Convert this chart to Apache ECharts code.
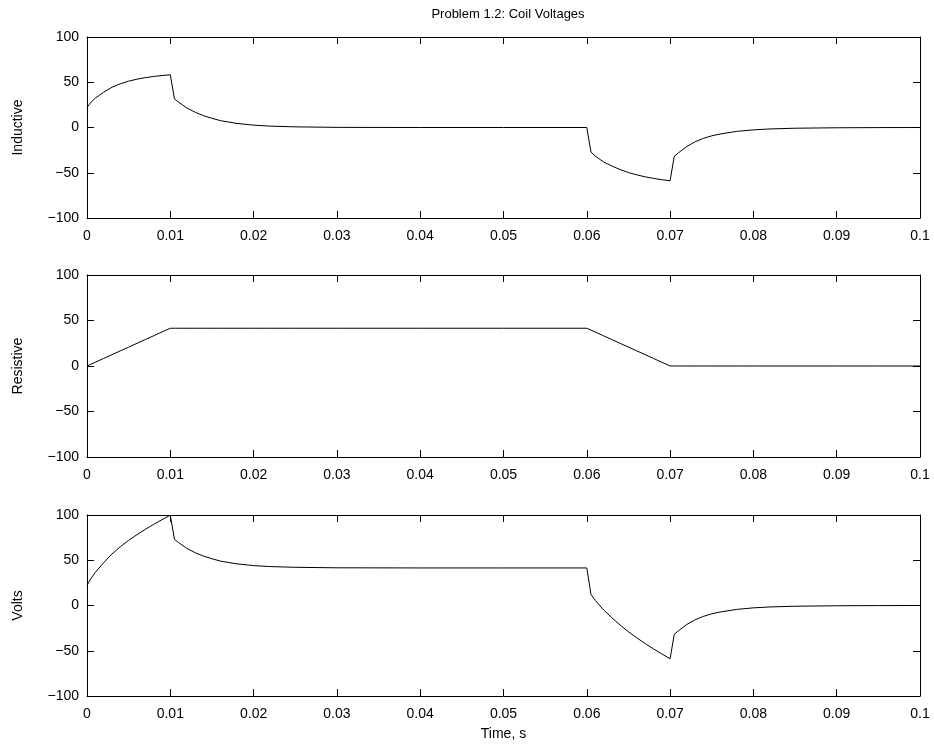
<!DOCTYPE html>
<html>
<head>
<meta charset="utf-8">
<script src="https://cdn.jsdelivr.net/npm/echarts@6/dist/echarts.min.js"></script>
<style>
html,body{margin:0;padding:0;background:#fff;}
#chart{width:934px;height:748px;}
</style>
</head>
<body>
<div id="chart"></div>
<script>
// ---- data ----
const time = [
  0, 0.0005, 0.001, 0.002, 0.003, 0.004, 0.005, 0.006, 0.007, 0.008, 0.009, 0.01,
  0.0105, 0.011, 0.012, 0.013, 0.014, 0.015, 0.016, 0.018, 0.02, 0.022, 0.025, 0.03, 0.04, 0.05, 0.06,
  0.0605, 0.061, 0.062, 0.063, 0.064, 0.065, 0.066, 0.067, 0.068, 0.069, 0.07,
  0.0705, 0.071, 0.072, 0.073, 0.074, 0.075, 0.076, 0.078, 0.08, 0.082, 0.085, 0.09, 0.095, 0.1
];
const inductive = [
  22.3, 28, 32.5, 39, 44.5, 48.3, 51.2, 53.4, 55.1, 56.4, 57.4, 58.3,
  31.5, 28, 21.5, 16.8, 13, 10.2, 7.6, 4.5, 2.6, 1.5, 0.7, 0.15, 0, 0, 0,
  -27.2, -31.5, -38, -42.5, -46.5, -49.8, -52.3, -54.5, -56.2, -57.7, -58.8,
  -31.8, -28, -21, -15.8, -12, -9.2, -7.2, -4.3, -2.6, -1.6, -0.8, -0.3, -0.1, 0
];
const resistive = [
  0, 2.1, 4.2, 8.3, 12.5, 16.6, 20.8, 24.9, 29.1, 33.2, 37.4, 41.5,
  41.5, 41.5, 41.5, 41.5, 41.5, 41.5, 41.5, 41.5, 41.5, 41.5, 41.5, 41.5, 41.5, 41.5, 41.5,
  39.4, 37.4, 33.2, 29.1, 24.9, 20.8, 16.6, 12.5, 8.3, 4.2, 0,
  0, 0, 0, 0, 0, 0, 0, 0, 0, 0, 0, 0, 0, 0
];
const volts = [
  22.3, 30.1, 36.7, 47.3, 57, 64.9, 72, 78.3, 84.2, 89.6, 94.8, 99.8,
  73, 69.5, 63, 58.3, 54.5, 51.7, 49.1, 46, 44.1, 43, 42.2, 41.65, 41.5, 41.5, 41.5,
  12.2, 5.9, -4.8, -13.4, -21.6, -29, -35.7, -42, -47.9, -53.5, -58.8,
  -31.8, -28, -21, -15.8, -12, -9.2, -7.2, -4.3, -2.6, -1.6, -0.8, -0.3, -0.1, 0
];
const xTickLabels = ['0','0.01','0.02','0.03','0.04','0.05','0.06','0.07','0.08','0.09','0.1'];
const yTickLabels = {'-100':'\u2212100','-50':'\u221250','0':'0','50':'50','100':'100'};
const panelNames = ['Inductive','Resistive','Volts'];
const titleText = 'Problem 1.2: Coil Voltages';
const xName = 'Time, s';

// ---- chart ----
const FONT = 'Liberation Sans, Arial, Helvetica, sans-serif';
const chart = echarts.init(document.getElementById('chart'), null, {renderer:'canvas'});
const grids = [
  {left:87, right:14, top:37, height:181},
  {left:87, right:14, top:275, height:182},
  {left:87, right:14, top:515, height:181}
];
const seriesData = [inductive, resistive, volts];
const xAxes = [], yAxes = [], series = [];
const lineStyle = {color:'#000', width:1};
grids.forEach((g, i) => {
  xAxes.push({
    type:'value', gridIndex:i, min:0, max:0.1, interval:0.01, position:'bottom',
    axisLine:{show:true, onZero:false, lineStyle},
    axisTick:{show:true, inside:true, length:7, lineStyle},
    splitLine:{show:false},
    axisLabel:{show:true, margin:11, color:'#000', fontFamily:FONT, fontSize:14,
      formatter:v => xTickLabels[Math.round(v/0.01)]},
    name: i === 2 ? xName : '', nameLocation:'middle', nameGap:31,
    nameTextStyle:{color:'#000', fontFamily:FONT, fontSize:14}
  });
  xAxes.push({
    type:'value', gridIndex:i, min:0, max:0.1, interval:0.01, position:'top',
    axisLine:{show:true, onZero:false, lineStyle},
    axisTick:{show:true, inside:true, length:7, lineStyle},
    splitLine:{show:false}, axisLabel:{show:false}
  });
  yAxes.push({
    type:'value', gridIndex:i, min:-100, max:100, interval:50, position:'left',
    axisLine:{show:true, onZero:false, lineStyle},
    axisTick:{show:true, inside:true, length:7, lineStyle},
    splitLine:{show:false},
    axisLabel:{show:true, margin:8, color:'#000', fontFamily:FONT, fontSize:14,
      formatter:v => yTickLabels[String(v)]},
    name: panelNames[i], nameLocation:'middle', nameGap:62, nameRotate:90,
    nameTextStyle:{color:'#000', fontFamily:FONT, fontSize:14}
  });
  yAxes.push({
    type:'value', gridIndex:i, min:-100, max:100, interval:50, position:'right',
    axisLine:{show:true, onZero:false, lineStyle},
    axisTick:{show:true, inside:true, length:7, lineStyle},
    splitLine:{show:false}, axisLabel:{show:false}
  });
  series.push({
    type:'line', xAxisIndex:i*2, yAxisIndex:i*2, showSymbol:false, symbol:'none',
    animation:false, lineStyle:{color:'#000', width:1},
    data: time.map((t, k) => [t, seriesData[i][k]])
  });
});
chart.setOption({
  backgroundColor:'#fff',
  animation:false,
  title:{text:titleText, left:503, top:3, textAlign:'center',
    textStyle:{color:'#000', fontFamily:FONT, fontSize:13, fontWeight:'normal'}},
  grid:grids, xAxis:xAxes, yAxis:yAxes, series
});
</script>
</body>
</html>
